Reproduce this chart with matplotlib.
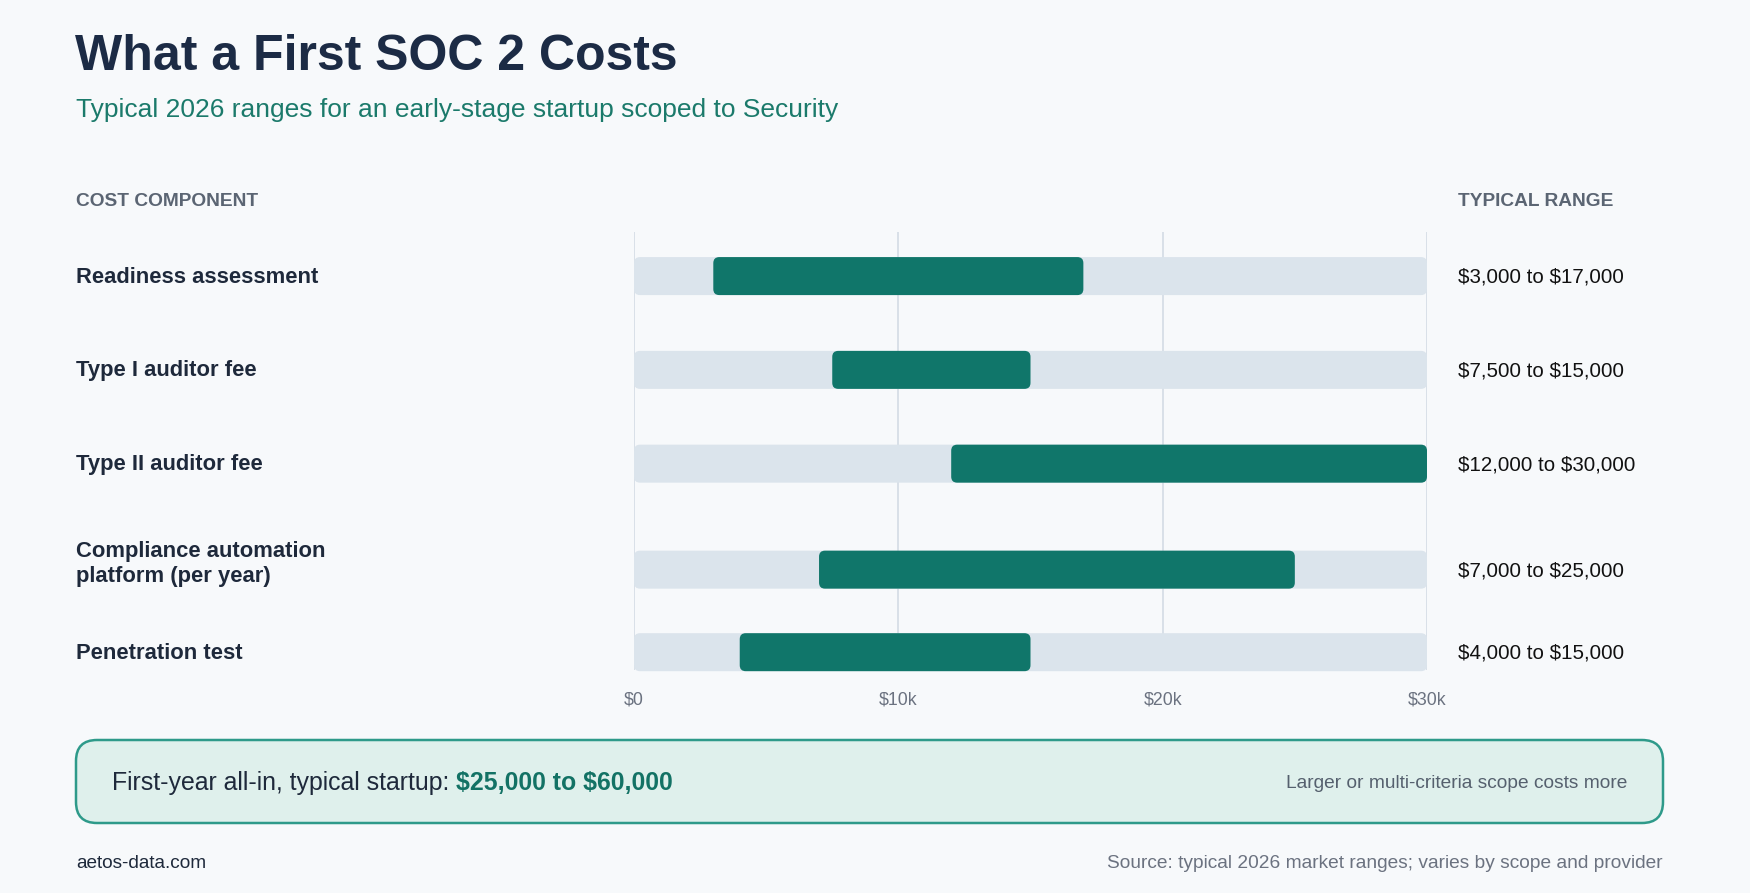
import matplotlib
matplotlib.use("Agg")
import matplotlib.pyplot as plt
from matplotlib.patches import FancyBboxPatch

# ---------------- data ----------------
components = ["Readiness assessment", "Type I auditor fee", "Type II auditor fee",
              "Compliance automation\nplatform (per year)", "Penetration test"]
low_values = [3000, 7500, 12000, 7000, 4000]
high_values = [17000, 15000, 30000, 25000, 15000]
range_labels = ["$3,000 to $17,000", "$7,500 to $15,000", "$12,000 to $30,000",
                "$7,000 to $25,000", "$4,000 to $15,000"]
tick_values = [0, 10000, 20000, 30000]
tick_labels = ["$0", "$10k", "$20k", "$30k"]
axis_max = 30000

title = "What a First SOC 2 Costs"
subtitle = "Typical 2026 ranges for an early-stage startup scoped to Security"
callout_lead = "First-year all-in, typical startup: "
callout_value = "$25,000 to $60,000"
callout_note = "Larger or multi-criteria scope costs more"
footer_left = "aetos-data.com"
footer_right = "Source: typical 2026 market ranges; varies by scope and provider"

# ---------------- layout / style ----------------
W, H = 1750, 893
row_pos = [0, 1, 2, 3.13, 4.01]   # vertical slot positions (layout)
label_shift = [0.01, 0.01, 0.01, -0.06, 0.01]  # vertical nudge of row labels (layout)
BG = "#f7f9fb"
TEAL = "#10766a"
TRACK = "#dbe4ec"
GRID = "#d4dce5"

plt.rcParams["font.family"] = ["Liberation Sans", "DejaVu Sans"]
plt.rcParams["text.parse_math"] = False

fig = plt.figure(figsize=(W / 100, H / 100), dpi=100, facecolor=BG)

def fx(px):
    return px / W

def fy(py):
    return 1 - py / H

# axes region in pixels
ax_l, ax_r, ax_t, ax_b = 634, 1427, 232, 670
ax = fig.add_axes([fx(ax_l), fy(ax_b), fx(ax_r) - fx(ax_l), (ax_b - ax_t) / H])
ax.set_facecolor("none")
ax.set_xlim(0, axis_max)
ax.set_ylim(4.2, -0.47)
for s in ax.spines.values():
    s.set_visible(False)
ax.set_xticks([])
ax.set_yticks([])

for t in tick_values:
    ax.axvline(t, color=GRID, lw=1.2, zorder=0)

# data units per pixel
x_per_px = axis_max / (ax_r - ax_l)
y_per_px = (4.2 + 0.47) / (ax_b - ax_t)
aspect = y_per_px / x_per_px
bar_h = 38 * y_per_px
radius = 6 * x_per_px

def rbar(x0, x1, yc, color, z):
    p = FancyBboxPatch((x0, yc - bar_h / 2), x1 - x0, bar_h,
                       boxstyle=f"round,pad=0,rounding_size={radius}",
                       mutation_aspect=aspect, facecolor=color,
                       edgecolor="none", zorder=z, clip_on=False)
    ax.add_patch(p)

for i, y in enumerate(row_pos):
    rbar(0, axis_max, y, TRACK, 1)
    rbar(low_values[i], high_values[i], y, TEAL, 2)
    # row label
    ax.text(-(ax_l - 76) * x_per_px, y + label_shift[i], components[i],
            ha="left", va="center", fontsize=15.8, fontweight="bold",
            color="#1e293b", linespacing=1.2, clip_on=False)
    # range label
    ax.text(axis_max + (1458 - ax_r) * x_per_px, y + 0.01, range_labels[i],
            ha="left", va="center", fontsize=14.8, color="#111111", clip_on=False)

for t, lab in zip(tick_values, tick_labels):
    ax.text(t, 4.2 + 30 * y_per_px, lab, ha="center", va="center",
            fontsize=12.8, color="#6b7280", clip_on=False)

# ---------------- titles ----------------
fig.text(fx(75), fy(57), title, ha="left", va="center", fontsize=36,
         fontweight="bold", color="#1c2b45")
fig.text(fx(76), fy(110), subtitle, ha="left", va="center", fontsize=19,
         color="#1b7a6b")
fig.text(fx(76), fy(202), "COST COMPONENT", ha="left", va="center",
         fontsize=13.8, fontweight="bold", color="#5b6573")
fig.text(fx(1458), fy(202), "TYPICAL RANGE", ha="left", va="center",
         fontsize=13.8, fontweight="bold", color="#5b6573")

# ---------------- callout ----------------
box = FancyBboxPatch((fx(76), fy(823)), fx(1663) - fx(76), (823 - 740) / H,
                     boxstyle="round,pad=0,rounding_size=0.012",
                     mutation_aspect=W / H,
                     transform=fig.transFigure, facecolor="#dff0ec",
                     edgecolor="#2e9a8a", lw=1.8, zorder=0)
fig.patches.append(box)

lead = fig.text(fx(112), fy(783), callout_lead, ha="left", va="center",
                fontsize=17.9, color="#1e293b")
fig.canvas.draw()
r = fig.canvas.get_renderer()
bb = lead.get_window_extent(renderer=r)
fig.text(bb.x1 / (fig.dpi * fig.get_figwidth()), fy(783), callout_value,
         ha="left", va="center", fontsize=17.9, fontweight="bold", color="#137265")
fig.text(fx(1627), fy(784), callout_note, ha="right", va="center",
         fontsize=13.8, color="#55606e")

# ---------------- footer ----------------
fig.text(fx(76), fy(864), footer_left, ha="left", va="center", fontsize=13.7,
         color="#1e293b")
fig.text(fx(1663), fy(864), footer_right, ha="right", va="center",
         fontsize=13.8, color="#6b7280")

fig.savefig("out.png", dpi=100, facecolor=BG)
